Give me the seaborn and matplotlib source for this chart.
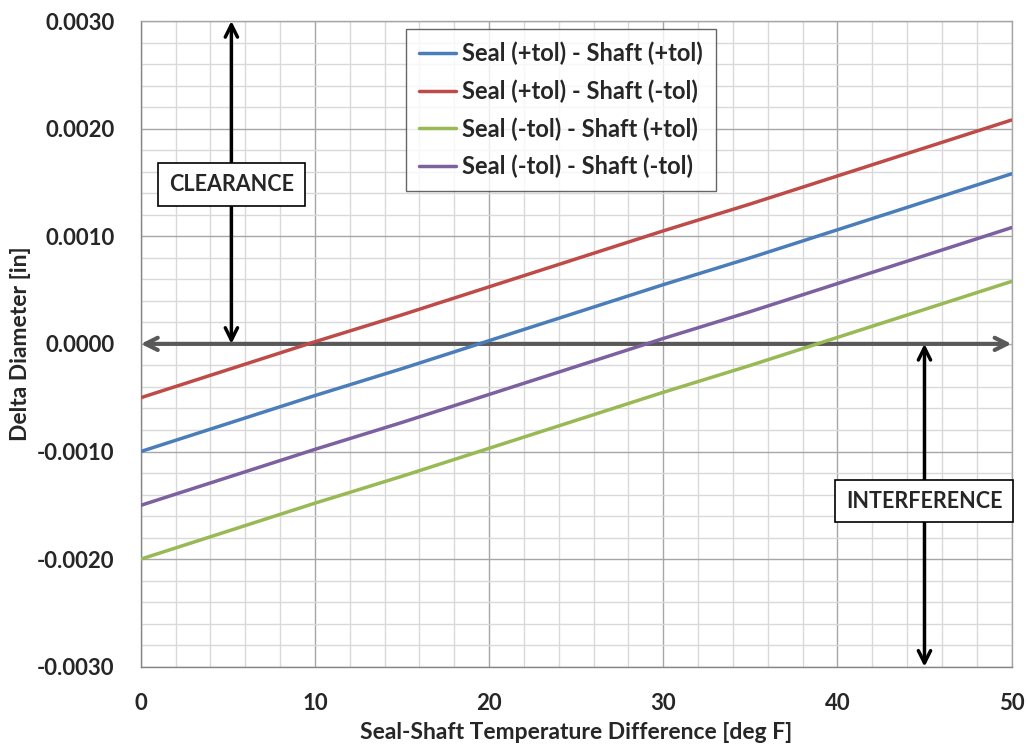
import numpy as np
import pandas as pd
import matplotlib
matplotlib.use("Agg")
import matplotlib.pyplot as plt
from matplotlib.ticker import MultipleLocator, FuncFormatter
import seaborn as sns

# ---- data ----
temp_diff = [0, 5, 10, 15, 20, 25, 30, 35, 40, 45, 50]
seal_p_shaft_p = [-0.00100, -0.00074, -0.00048, -0.00023, 0.00003, 0.00029, 0.00055, 0.00080, 0.00106, 0.00132, 0.00158]
seal_p_shaft_m = [-0.00050, -0.00024, 0.00002, 0.00027, 0.00053, 0.00079, 0.00105, 0.00130, 0.00156, 0.00182, 0.00208]
seal_m_shaft_p = [-0.00200, -0.00174, -0.00148, -0.00123, -0.00097, -0.00071, -0.00045, -0.00020, 0.00006, 0.00032, 0.00058]
seal_m_shaft_m = [-0.00150, -0.00124, -0.00098, -0.00073, -0.00047, -0.00021, 0.00005, 0.00030, 0.00056, 0.00082, 0.00108]
series_names = ["Seal (+tol) - Shaft (+tol)", "Seal (+tol) - Shaft (-tol)",
                "Seal (-tol) - Shaft (+tol)", "Seal (-tol) - Shaft (-tol)"]
colors = ["#4A7EBB", "#BE4B48", "#98B954", "#7D60A0"]

rows = []
for name, vals in zip(series_names, [seal_p_shaft_p, seal_p_shaft_m, seal_m_shaft_p, seal_m_shaft_m]):
    for x, y in zip(temp_diff, vals):
        rows.append({"x": x, "y": y, "series": name})
df = pd.DataFrame(rows)

sns.set_theme(style="white")
plt.rcParams['font.family'] = ['Lato', 'DejaVu Sans']
plt.rcParams['font.weight'] = 'bold'

fig = plt.figure(figsize=(10.28, 7.5), dpi=100)
ax = fig.add_axes([0.137, 0.111, 0.847, 0.861])

sns.lineplot(data=df, x="x", y="y", hue="series", palette=colors,
             hue_order=series_names, linewidth=2.5, ax=ax, zorder=3)

ax.set_xlim(0, 50)
ax.set_ylim(-0.003, 0.003)
ax.xaxis.set_major_locator(MultipleLocator(10))
ax.xaxis.set_minor_locator(MultipleLocator(2))
ax.yaxis.set_major_locator(MultipleLocator(0.001))
ax.yaxis.set_minor_locator(MultipleLocator(0.0002))
ax.yaxis.set_major_formatter(FuncFormatter(lambda v, p: f"{v:.4f}" if abs(v) > 1e-12 else "0.0000"))

ax.grid(which="major", color="#A6A6A6", linewidth=1.0, zorder=0)
ax.grid(which="minor", color="#D9D9D9", linewidth=1.0, zorder=0)
ax.set_axisbelow(True)

for s in ["top", "right"]:
    ax.spines[s].set_color("#A6A6A6")
    ax.spines[s].set_linewidth(1.0)
for s in ["left", "bottom"]:
    ax.spines[s].set_color("#868686")
    ax.spines[s].set_linewidth(1.0)

ax.tick_params(axis="both", which="both", direction="out", color="#868686")
ax.tick_params(axis="both", which="major", length=7, width=1, labelsize=16, pad=12)
ax.tick_params(axis="both", which="minor", length=7, width=1)
for lab in ax.get_xticklabels() + ax.get_yticklabels():
    lab.set_fontweight("bold")

ax.set_xlabel("Seal-Shaft Temperature Difference [deg F]", fontsize=16.5, fontweight="bold", labelpad=6)
ax.set_ylabel("Delta Diameter [in]", fontsize=16.5, fontweight="bold", labelpad=4)

# zero-line double arrow
ax.annotate("", xy=(0, 0), xytext=(50, 0),
            arrowprops=dict(arrowstyle="<->", color="#595959", lw=3, mutation_scale=22,
                            shrinkA=0, shrinkB=0), zorder=2)
# clearance arrow
ax.annotate("", xy=(5.2, 0.003), xytext=(5.2, 0.0),
            arrowprops=dict(arrowstyle="<->", color="black", lw=2.5, mutation_scale=22,
                            shrinkA=0, shrinkB=0), zorder=4)
ax.text(5.2, 0.00148, "CLEARANCE", ha="center", va="center", fontsize=15.5, fontweight="bold",
        bbox=dict(boxstyle="square,pad=0.5", fc="white", ec="black", lw=1.2), zorder=5)
# interference arrow
ax.annotate("", xy=(45, -0.003), xytext=(45, 0.0),
            arrowprops=dict(arrowstyle="<->", color="black", lw=2.5, mutation_scale=22,
                            shrinkA=0, shrinkB=0), zorder=4)
ax.text(45, -0.00146, "INTERFERENCE", ha="center", va="center", fontsize=15.5, fontweight="bold",
        bbox=dict(boxstyle="square,pad=0.5", fc="white", ec="black", lw=1.2), zorder=5)

leg = ax.legend(loc="upper left", bbox_to_anchor=(0.304, 0.988), frameon=True, fancybox=False,
                edgecolor="#404040", handlelength=1.6, handletextpad=0.25,
                labelspacing=0.6, borderpad=0.55, borderaxespad=0,
                prop={"weight": "bold", "size": 17})
leg.get_frame().set_linewidth(1.0)
leg.set_zorder(6)

fig.savefig("out.png", dpi=100)
